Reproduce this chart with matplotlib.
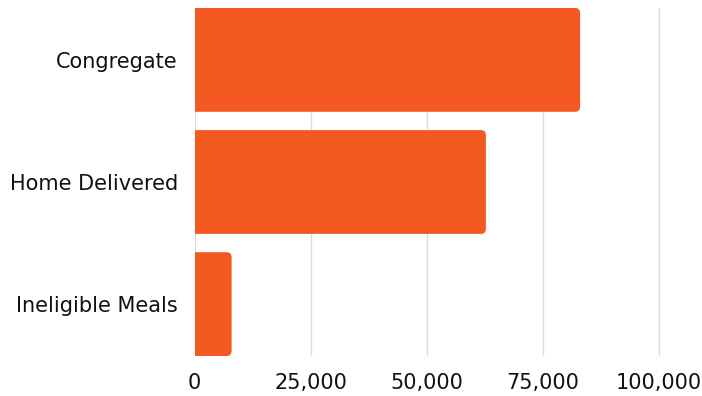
import matplotlib
matplotlib.use("Agg")
import matplotlib.pyplot as plt
from matplotlib.patches import FancyBboxPatch
from matplotlib.ticker import FuncFormatter

categories = ["Congregate", "Home Delivered", "Ineligible Meals"]
meals = [83100, 62800, 8000]
x_ticks = [0, 25000, 50000, 75000, 100000]

BAR_COLOR = "#F45922"
W, H = 702, 396

plt.rcParams["font.family"] = ["DejaVu Sans"]

fig = plt.figure(figsize=(W / 100, H / 100), dpi=100)
left, right, top, bottom = 194.5, 702, 8, 356
ax = fig.add_axes([left / W, 1 - bottom / H, (right - left) / W, (bottom - top) / H])

bar_h = 0.85
xmax = (right - left) / 116 * 25000
ax.set_xlim(0, xmax)
ax.set_ylim(len(categories) - 1 + bar_h / 2, -bar_h / 2)

bars = ax.barh(range(len(categories)), meals, height=bar_h, color=BAR_COLOR)

# Replace plain rectangles with right-rounded bars (left side clipped at the axis)
x_per_px = xmax / (right - left)
y_per_px = (len(categories) - 1 + bar_h) / (bottom - top)
radius_px = 5
for rect in bars:
    x0, y0 = rect.get_x(), rect.get_y()
    w, h = rect.get_width(), rect.get_height()
    rect.set_visible(False)
    ext = 10 * x_per_px
    patch = FancyBboxPatch(
        (x0 - ext, y0), w + ext, h,
        boxstyle=f"round,pad=0,rounding_size={radius_px * x_per_px}",
        mutation_aspect=y_per_px / x_per_px,
        facecolor=BAR_COLOR, edgecolor="none", zorder=3,
    )
    ax.add_patch(patch)

ax.set_xticks(x_ticks)
ax.xaxis.set_major_formatter(FuncFormatter(lambda v, p: f"{int(v):,}"))
ax.set_yticks(range(len(categories)))
ax.set_yticklabels(categories)

ax.grid(axis="x", color="#dddddd", linewidth=1, zorder=0)
ax.set_axisbelow(True)
for s in ax.spines.values():
    s.set_visible(False)
ax.tick_params(axis="both", length=0, labelsize=15, colors="#111111")
ax.tick_params(axis="x", pad=12)
ax.tick_params(axis="y", pad=12)

fig.savefig("out.png", dpi=100, facecolor="white")
